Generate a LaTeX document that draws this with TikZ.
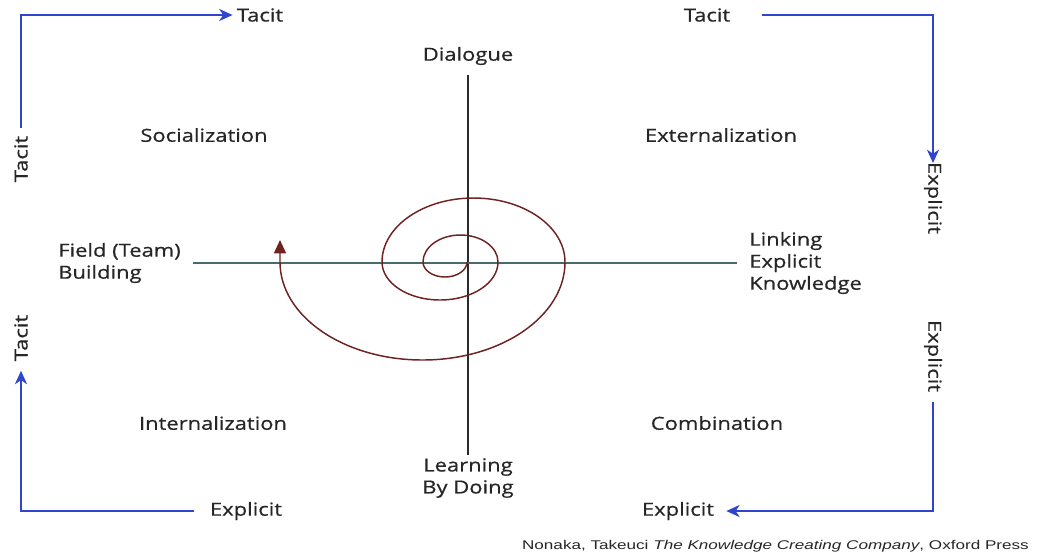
\documentclass[tikz,border=0pt]{standalone}
\usepackage{fontspec}
\setmainfont{Open Sans}[FakeStretch=1.22,FakeBold=0.6]
\newfontfamily\footfont{Liberation Sans}[FakeStretch=1.35]
\usetikzlibrary{arrows.meta}
\definecolor{txt}{HTML}{262626}
\definecolor{arrblue}{HTML}{2F45D0}
\definecolor{spiral}{HTML}{6E2222}
\definecolor{haxis}{HTML}{4A6B6B}
\definecolor{vaxis}{HTML}{2A2A2A}
\begin{document}
\begin{tikzpicture}[x=0.75pt,y=-0.75pt,
  lbl/.style={text=txt,font=\fontsize{13.5}{16.5}\selectfont,inner sep=3pt},
  blue/.style={draw=arrblue,line width=1.7pt},
  bluearr/.style={blue,-{Stealth[length=10pt,width=9pt,inset=3pt]}},
  spir/.style={draw=spiral,line width=1.1pt},
  ]
\useasboundingbox (0,0) rectangle (1038,558);
% corner labels
\node[lbl] (tTL) at (260,15) {Tacit};
\node[lbl,rotate=90] (tL) at (21,159) {Tacit};
\node[lbl] (tTR) at (707,15) {Tacit};
\node[lbl,rotate=-90] (eR1) at (933,198) {Explicit};
\node[lbl,rotate=-90] (eR2) at (933,356) {Explicit};
\node[lbl] (eBR) at (678,511) {Explicit};
\node[lbl] (eBL) at (246,511) {Explicit};
\node[lbl,rotate=90] (tL2) at (21,338) {Tacit};
% quadrant labels
\node[lbl] (soc) at (204,135) {Socialization};
\node[lbl] (ext) at (721,135) {Externalization};
\node[lbl] (int) at (213,423) {Internalization};
\node[lbl] (com) at (717,423) {Combination};
% axis labels
\node[lbl] (dia) at (468,56) {Dialogue};
\node[lbl,align=center] (lbd) at (468,478) {Learning\\By Doing};
\node[lbl,align=left,anchor=west] (fld) at (54,263) {Field (Team)\\Building};
\node[lbl,align=left,anchor=west] (lnk) at (745,263) {Linking\\Explicit\\Knowledge};
% footer
\node[anchor=east,inner sep=0pt,text=txt,font=\footfont\fontsize{9.5}{11}\selectfont] (foot) at (1029,546) {Nonaka, Takeuci \textit{The Knowledge Creating Company}, Oxford Press};
% axes
\draw[draw=vaxis,line width=1.6pt,shorten <=4pt,shorten >=-1pt] (dia.south) -- (lbd.north);
\draw[draw=haxis,line width=1.4pt,shorten <=6pt,shorten >=6pt] (fld.east) -- (lnk.west);
% blue connectors
\draw[bluearr,shorten <=3pt] (tL.east) |- (tTL.west);
\draw[bluearr,shorten <=21pt,shorten >=-4pt] (tTR.east) -| (eR1.west);
\draw[bluearr,shorten <=4pt,shorten >=6pt] (eR2.east) |- (eBR.east);
\draw[bluearr,shorten <=9pt,shorten >=4pt] (eBL.west) -| (tL2.west);
% spiral
\coordinate (sc) at (467,262);
\coordinate (send) at (280,240);
\draw[spir,-{Triangle[length=10pt,width=9pt]}] (sc)
  arc[start angle=0,end angle=180,x radius=22,y radius=15]
  arc[start angle=180,end angle=360,x radius=37.5,y radius=27]
  arc[start angle=0,end angle=180,x radius=58,y radius=38]
  arc[start angle=180,end angle=360,x radius=91.5,y radius=64]
  arc[start angle=0,end angle=180,x radius=142.5,y radius=98]
  -- (send);
\end{tikzpicture}
\end{document}
